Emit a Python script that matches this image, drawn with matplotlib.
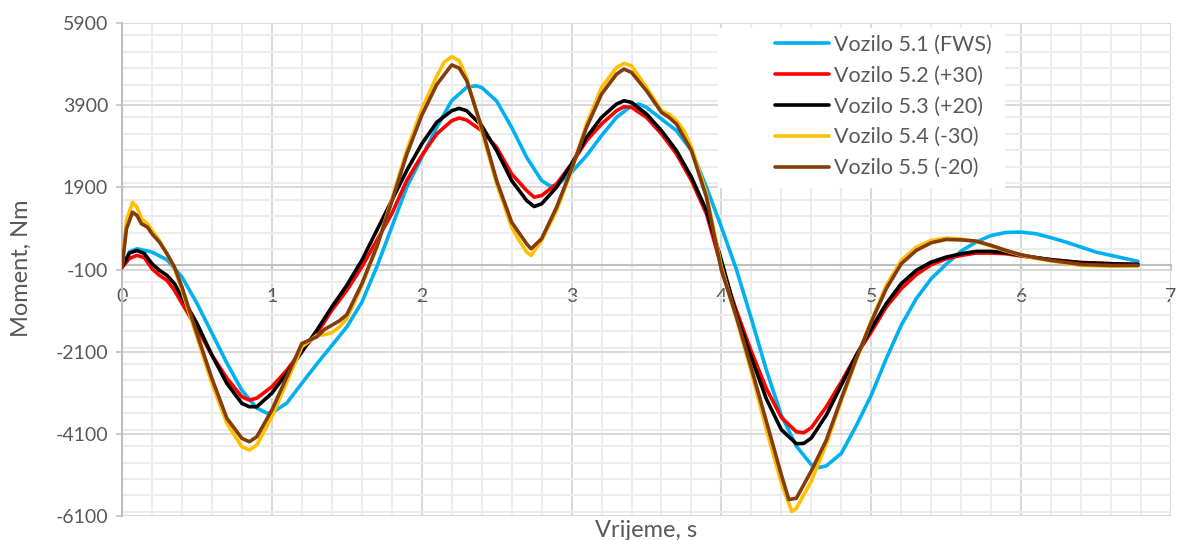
import numpy as np
import matplotlib
matplotlib.use("Agg")
import matplotlib.pyplot as plt
from matplotlib.ticker import MultipleLocator
from matplotlib.patches import Rectangle

plt.rcParams['font.family'] = ['Lato', 'DejaVu Sans']
plt.rcParams['axes.unicode_minus'] = False

# values (time in s, moment in Nm)
t_fws = [0, 0.05, 0.1, 0.2, 0.3, 0.4, 0.5, 0.6, 0.7, 0.8, 0.9, 0.97, 1.0, 1.1, 1.2, 1.3, 1.4, 1.5,
         1.6, 1.7, 1.8, 1.9, 2.0, 2.1, 2.2, 2.3, 2.36, 2.4, 2.5, 2.6, 2.7, 2.8, 2.86, 2.9, 3.0, 3.1,
         3.2, 3.3, 3.4, 3.45, 3.5, 3.6, 3.7, 3.8, 3.9, 4.0, 4.1, 4.2, 4.3, 4.4, 4.5, 4.6, 4.65, 4.7,
         4.8, 4.9, 5.0, 5.1, 5.2, 5.3, 5.4, 5.5, 5.6, 5.7, 5.8, 5.9, 6.0, 6.1, 6.2, 6.3, 6.4, 6.5,
         6.6, 6.7, 6.78]
m_fws = [-50, 330, 405, 324, 138, -283, -923, -1650, -2380, -3040, -3475, -3600, -3590, -3350,
         -2870, -2400, -1950, -1500, -900, -40, 931, 1903, 2631, 3360, 4008, 4332, 4372, 4332,
         4000, 3360, 2631, 2065, 1927, 1943, 2267, 2672, 3158, 3603, 3887, 3927, 3846, 3563, 3279,
         2793, 1903, 931, -100, -1300, -2550, -3650, -4400, -4850, -4920, -4880, -4575, -3900,
         -3158, -2267, -1457, -810, -324, 30, 350, 567, 729, 802, 810, 770, 672, 567, 445, 324,
         243, 162, 97]

t_pos = [0, 0.05, 0.1, 0.15, 0.2, 0.25, 0.3, 0.35, 0.4, 0.5, 0.6, 0.7, 0.8, 0.85, 0.9, 1.0, 1.1,
         1.2, 1.3, 1.4, 1.5, 1.6, 1.7, 1.8, 1.9, 2.0, 2.1, 2.2, 2.25, 2.3, 2.4, 2.5, 2.6, 2.7, 2.75,
         2.8, 2.9, 3.0, 3.1, 3.2, 3.3, 3.35, 3.4, 3.5, 3.6, 3.7, 3.8, 3.9, 4.0, 4.1, 4.2, 4.3, 4.4,
         4.5, 4.55, 4.6, 4.7, 4.8, 4.9, 5.0, 5.1, 5.2, 5.3, 5.4, 5.5, 5.6, 5.7, 5.8, 5.9, 6.0, 6.2,
         6.4, 6.6, 6.78]
m_p30 = [-50, 170, 243, 186, -80, -243, -364, -607, -923, -1530, -2186, -2745, -3199, -3280,
         -3231, -2955, -2550, -2065, -1660, -1093, -607, -40, 607, 1255, 2065, 2672, 3199, 3522,
         3587, 3538, 3279, 2874, 2227, 1822, 1660, 1700, 1984, 2470, 3036, 3441, 3765, 3862, 3846,
         3603, 3199, 2713, 2065, 1255, -40, -1100, -2100, -3000, -3700, -4050, -4073, -3950,
         -3441, -2834, -2186, -1620, -1012, -567, -227, 16, 162, 243, 300, 300, 283, 227, 138, 73,
         40, 24]
m_p20 = [-50, 300, 364, 283, 40, -121, -243, -445, -769, -1410, -2186, -2874, -3360, -3440,
         -3440, -3110, -2624, -2105, -1579, -1012, -486, 121, 850, 1579, 2307, 2955, 3482, 3765,
         3822, 3765, 3401, 2793, 2065, 1579, 1433, 1498, 1903, 2470, 3117, 3603, 3927, 4008, 3968,
         3684, 3279, 2793, 2146, 1336, 121, -1200, -2250, -3250, -4000, -4340, -4332, -4200,
         -3644, -2915, -2186, -1538, -931, -445, -121, 81, 202, 283, 340, 340, 308, 243, 138, 65,
         40, 24]

t_m30 = [0, 0.03, 0.07, 0.1, 0.13, 0.17, 0.2, 0.25, 0.3, 0.35, 0.4, 0.5, 0.6, 0.7, 0.8, 0.85, 0.9,
         1.0, 1.1, 1.2, 1.3, 1.35, 1.4, 1.45, 1.5, 1.6, 1.7, 1.8, 1.9, 2.0, 2.1, 2.15, 2.2, 2.25,
         2.3, 2.4, 2.5, 2.6, 2.65, 2.7, 2.73, 2.8, 2.9, 3.0, 3.1, 3.2, 3.3, 3.35, 3.4, 3.5, 3.6,
         3.65, 3.7, 3.75, 3.8, 3.9, 4.0, 4.1, 4.2, 4.3, 4.4, 4.47, 4.5, 4.6, 4.7, 4.8, 4.9, 5.0,
         5.1, 5.2, 5.3, 5.4, 5.5, 5.6, 5.7, 5.8, 5.9, 6.0, 6.1, 6.2, 6.4, 6.6, 6.78]
m_m30 = [-50, 1093, 1538, 1417, 1133, 1012, 850, 607, 283, -80, -607, -1740, -2874, -3845, -4413,
         -4494, -4372, -3684, -2834, -1984, -1700, -1690, -1640, -1500, -1300, -500, 450, 1600,
         2800, 3800, 4600, 4950, 5080, 4980, 4575, 3279, 1990, 931, 607, 324, 243, 607, 1336,
         2307, 3441, 4332, 4818, 4915, 4858, 4332, 3765, 3684, 3522, 3279, 2874, 1741, -40,
         -1300, -2600, -4000, -5300, -5990, -5911, -5250, -4350, -3300, -2300, -1350, -486, 121,
         445, 607, 664, 640, 580, 470, 350, 245, 170, 110, 0, -20, -10]

t_m20 = [0, 0.03, 0.07, 0.1, 0.13, 0.17, 0.2, 0.25, 0.3, 0.35, 0.4, 0.5, 0.6, 0.7, 0.8, 0.85, 0.9,
         1.0, 1.1, 1.2, 1.3, 1.35, 1.4, 1.45, 1.5, 1.6, 1.7, 1.8, 1.9, 2.0, 2.1, 2.2, 2.25, 2.3,
         2.4, 2.5, 2.6, 2.7, 2.73, 2.8, 2.9, 3.0, 3.1, 3.2, 3.3, 3.35, 3.4, 3.5, 3.6, 3.65, 3.7,
         3.8, 3.9, 4.0, 4.1, 4.2, 4.3, 4.4, 4.45, 4.5, 4.6, 4.7, 4.8, 4.9, 5.0, 5.1, 5.2, 5.3,
         5.4, 5.5, 5.6, 5.7, 5.8, 5.9, 6.0, 6.1, 6.2, 6.4, 6.6, 6.78]
m_m20 = [-50, 891, 1295, 1214, 1012, 931, 770, 566, 283, -40, -526, -1660, -2752, -3724, -4210,
         -4292, -4170, -3522, -2713, -1902, -1740, -1560, -1457, -1350, -1200, -450, 450, 1550,
         2700, 3650, 4400, 4880, 4800, 4500, 3360, 2065, 1052, 526, 405, 648, 1417, 2349, 3360,
         4170, 4656, 4778, 4697, 4251, 3724, 3603, 3441, 2793, 1660, -121, -1250, -2500, -3800,
         -5100, -5700, -5668, -5000, -4250, -3239, -2267, -1376, -567, 40, 364, 551, 631, 620,
         591, 486, 364, 259, 186, 121, 24, 0, 0]

labels = ["Vozilo 5.1 (FWS)", "Vozilo 5.2 (+30)", "Vozilo 5.3 (+20)",
          "Vozilo 5.4 (-30)", "Vozilo 5.5 (-20)"]
colors = ["#00b0f0", "#ff0000", "#000000", "#ffc000", "#843c0c"]
series = [(t_fws, m_fws), (t_pos, m_p30), (t_pos, m_p20), (t_m30, m_m30), (t_m20, m_m20)]

W, H = 1177, 540
fig = plt.figure(figsize=(W / 100, H / 100), dpi=100)
ax = fig.add_axes([122 / W, 1 - 516 / H, 1049 / W, 493 / H])

for (t, m), lab, c in zip(series, labels, colors):
    ax.plot(t, m, color=c, lw=2.6, label=lab, solid_capstyle='round', zorder=3)

ax.set_xlim(0, 7)
ax.set_ylim(-6100, 5900)
ax.xaxis.set_major_locator(MultipleLocator(1))
ax.xaxis.set_minor_locator(MultipleLocator(0.2))
ax.set_yticks(np.arange(-6100, 5901, 2000))
ax.yaxis.set_minor_locator(MultipleLocator(400))
ax.grid(which='major', color='#d9d9d9', lw=1.5, zorder=0)
ax.grid(which='minor', color='#ececec', lw=1.5, zorder=0)
ax.set_axisbelow(True)

for s in ['top', 'right']:
    ax.spines[s].set_visible(False)
ax.spines['bottom'].set_position(('data', 0))
ax.spines['bottom'].set_color('#bfbfbf')
ax.spines['bottom'].set_linewidth(1.5)
ax.spines['left'].set_color('#bfbfbf')
ax.spines['left'].set_linewidth(1.5)

ax.tick_params(axis='both', which='major', colors='#bfbfbf', labelcolor='#595959',
               labelsize=14, length=4, width=1.2)
ax.tick_params(axis='x', which='major', pad=12)
ax.tick_params(axis='y', which='major', pad=6)
ax.tick_params(which='minor', length=0)

fig.text(21 / W, 1 - 268 / H, "Moment, Nm", rotation=90, ha='center', va='center',
         fontsize=17, color='#595959')
fig.text(646 / W, 1 - 537 / H, "Vrijeme, s", ha='center', va='baseline',
         fontsize=17, color='#595959')

# white block behind the legend, as in the original
x0, x1 = (718 - 122) / 1049, (1005 - 122) / 1049
y0, y1 = (516 - 188) / 493, (516 - 28) / 493
ax.add_patch(Rectangle((x0, y0), x1 - x0, y1 - y0, transform=ax.transAxes,
                       facecolor='white', edgecolor='none', zorder=1))

leg = ax.legend(loc='upper left', bbox_to_anchor=((775 - 122) / 1049, (516 - 35) / 493),
                fontsize=15.5, frameon=False, handlelength=2.5, handletextpad=0.25,
                labelspacing=0.5, borderpad=0.0, borderaxespad=0.0)
for txt in leg.get_texts():
    txt.set_color('#595959')

fig.savefig("out.png", dpi=100)
